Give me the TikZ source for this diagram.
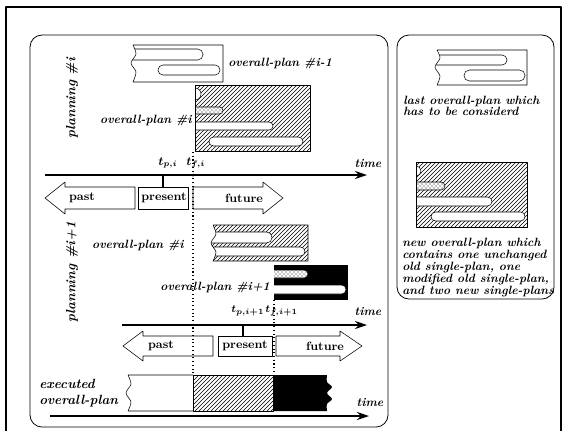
\documentclass[tikz,border=0pt]{standalone}
\usetikzlibrary{patterns,arrows.meta}
\begin{document}
\begin{tikzpicture}[x=0.75pt,y=-0.75pt,line join=round,
  lbl/.style={font=\fontsize{9}{9}\selectfont\bfseries\itshape, inner sep=0pt},
  biglbl/.style={font=\fontsize{10}{12}\selectfont\bfseries\itshape, inner sep=0pt},
  tlbl/.style={font=\fontsize{9}{9}\selectfont\boldmath, inner sep=0pt, anchor=west},
  pplbl/.style={font=\fontsize{9}{9}\selectfont\bfseries, inner sep=0pt},
  axisln/.style={line width=1.5pt,-{Stealth[length=9pt,width=6pt]}},
  hatch/.style={pattern=north east lines},
  dotbar/.style={fill=white,postaction={pattern=crosshatch dots}},
  wbar/.style={fill=white},
  tline/.style={dotted,line width=0.8pt}]
\useasboundingbox (0,0) rectangle (566,430);

% frames
\draw[line width=1.2pt] (6,7) rectangle (561,436);
\draw[rounded corners=9pt,line width=0.6pt] (30,35) rectangle (388,427);
\draw[rounded corners=9pt,line width=0.6pt] (397,35) rectangle (554,299);

% planning labels
\node[biglbl,rotate=90] (plani) at (72,98) {planning \#i};
\node[biglbl,rotate=90] (planii) at (72,272) {planning \#i+1};

% ---- overall-plan #i-1 (torn box)
\begin{scope}
\clip (133,45) -- (223,45) -- (223,82) -- (133,82) -- plot[smooth] coordinates {(133,82) (136,72) (131,63) (136,54) (133,45)} -- cycle;
\draw[rounded corners=4pt] (115,49) rectangle (203,60);
\draw[rounded corners=3.7pt] (158,65) rectangle (220,75);
\end{scope}
\draw (133,45) -- (223,45) -- (223,82) -- (133,82) -- plot[smooth] coordinates {(133,82) (136,72) (131,63) (136,54) (133,45)};
\node[lbl,anchor=west] (pim1) at (228,63) {overall-plan \#i-1};

% ---- overall-plan #i (hatched)
\fill[hatch] (195,85) rectangle (310,151);
\begin{scope}
\clip (195,85) rectangle (310,151);
\filldraw[fill=white] (195,94) circle [radius=6];
\filldraw[dotbar,rounded corners=2.6pt] (180,107) rectangle (223,114);
\filldraw[wbar,rounded corners=3pt] (180,122) rectangle (273,130);
\filldraw[wbar,rounded corners=3.3pt] (209,137) rectangle (303,146);
\end{scope}
\draw (195,85) rectangle (310,151);
\node[lbl,anchor=east] (pi) at (192,120) {overall-plan \#i};

% ---- time axis 1
\coordinate (a1s) at (45,175);
\coordinate (a1e) at (367,175);
\draw[axisln] (a1s) -- (a1e);
\node[lbl] (time1) at (368,163) {time};
\node[tlbl] (tpi) at (158,163) {$t_{p,i}$};
\node[tlbl] (tfi) at (186,163) {$t_{f,i}$};
\coordinate (tpia) at (163,175);
\coordinate (tpib) at (163,187);
\draw[line width=1.2pt] (tpia) -- (tpib);

% ---- past/present/future row 1
\draw (135,187) -- (65,187) -- (65,182) -- (45,198) -- (65,214) -- (65,209) -- (135,209) -- cycle;
\draw (138,187) rectangle (188,209);
\draw (193,187) -- (263,187) -- (263,182) -- (283,198) -- (263,214) -- (263,209) -- (193,209) -- cycle;
\node[pplbl] (past1) at (82,198) {past};
\node[pplbl] (pres1) at (164,198) {present};
\node[pplbl] (fut1) at (244,198) {future};

% ---- overall-plan #i (second, torn)
\fill[hatch] (213,225) -- (308,225) -- (308,261) -- (213,261) -- plot[smooth] coordinates {(213,261) (216,252) (211,243) (216,234) (213,225)} -- cycle;
\begin{scope}
\clip (213,225) -- (308,225) -- (308,261) -- (213,261) -- plot[smooth] coordinates {(213,261) (216,252) (211,243) (216,234) (213,225)} -- cycle;
\filldraw[wbar,rounded corners=4pt] (195,232) rectangle (272,243);
\filldraw[wbar,rounded corners=3.3pt] (195,247) rectangle (305,256);
\end{scope}
\draw (213,225) -- (308,225) -- (308,261) -- (213,261) -- plot[smooth] coordinates {(213,261) (216,252) (211,243) (216,234) (213,225)};
\node[lbl,anchor=east] (pi2) at (184,245) {overall-plan \#i};

% ---- overall-plan #i+1 (black)
\fill (274,265) rectangle (348,300);
\begin{scope}
\clip (274,265) rectangle (348,300);
\filldraw[dotbar,rounded corners=3pt] (260,270) rectangle (308,278);
\filldraw[wbar,rounded corners=3.3pt] (260,285) rectangle (346,294);
\end{scope}
\node[lbl,anchor=east] (pip1) at (270,287) {overall-plan \#i+1};

% ---- time axis 2
\coordinate (a2s) at (122,325);
\coordinate (a2e) at (367,325);
\draw[axisln] (a2s) -- (a2e);
\node[lbl] (time2) at (368,311) {time};
\node[tlbl,font=\fontsize{8}{9}\selectfont\boldmath] (tpii) at (231,311) {$t_{p,i+1}$};
\node[tlbl,font=\fontsize{8}{9}\selectfont\boldmath] (tfii) at (265,311) {$t_{f,i+1}$};
\coordinate (tpiia) at (243,325);
\coordinate (tpiib) at (243,336);
\draw[line width=1.2pt] (tpiia) -- (tpiib);

% ---- past/present/future row 2
\draw (213,336) -- (143,336) -- (143,331) -- (123,346) -- (143,361) -- (143,356) -- (213,356) -- cycle;
\draw (218,336) rectangle (272,356);
\draw (276,336) -- (340,336) -- (340,331) -- (362,346) -- (340,361) -- (340,356) -- (276,356) -- cycle;
\node[pplbl] (past2) at (161,346) {past};
\node[pplbl] (pres2) at (245,346) {present};
\node[pplbl] (fut2) at (325,346) {future};

% ---- executed overall-plan
\draw (193,375) -- (128,375) -- plot[smooth] coordinates {(128,375) (131,384) (126,393) (131,402) (128,411)} -- (193,411);
\filldraw[hatch,draw=black] (193,375) rectangle (273,411);
\fill (273,375) -- (327,375) -- plot[smooth] coordinates {(327,375) (327,382) (332,387) (327,393) (332,399) (327,404) (327,411)} -- (273,411) -- cycle;
\node[biglbl,anchor=north west,align=left] (exec) at (39,379) {executed\\overall-plan};

% ---- time axis 3
\coordinate (a3s) at (50,416);
\coordinate (a3e) at (369,416);
\draw[axisln] (a3s) -- (a3e);
\node[lbl] (time3) at (370,402) {time};

% ---- dotted time lines
\coordinate (d1t) at (193,152);
\coordinate (d1b) at (193,375);
\coordinate (d2t) at (274,300);
\coordinate (d2b) at (274,375);
\draw[tline] (d1t) -- (d1b);
\draw[tline] (d2t) -- (d2b);
\fill (193,175) circle [radius=1.5];
\fill (274,325) circle [radius=1.5];

% ---- legend: last overall-plan
\begin{scope}
\clip (437,50) -- (527,50) -- (527,85) -- (437,85) -- plot[smooth] coordinates {(437,85) (440,76) (435,67) (440,58) (437,50)} -- cycle;
\draw[rounded corners=3.7pt] (420,55) rectangle (507,65);
\draw[rounded corners=4pt] (464,70) rectangle (525,81);
\end{scope}
\draw (437,50) -- (527,50) -- (527,85) -- (437,85) -- plot[smooth] coordinates {(437,85) (440,76) (435,67) (440,58) (437,50)};
\node[lbl,anchor=north west,align=left,font=\fontsize{9}{8.5}\selectfont\bfseries\itshape] (lgA) at (403,96) {last overall-plan which\\has to be considerd};

% ---- legend: new overall-plan
\fill[hatch] (416,162) rectangle (527,227);
\begin{scope}
\clip (416,162) rectangle (527,227);
\filldraw[fill=white] (416,171) circle [radius=5];
\filldraw[dotbar,rounded corners=3pt] (400,182) rectangle (445,190);
\filldraw[wbar,rounded corners=3.3pt] (400,197) rectangle (492,206);
\filldraw[wbar,rounded corners=3.3pt] (431,212) rectangle (525,221);
\end{scope}
\draw (416,162) rectangle (527,227);
\node[lbl,anchor=north west,align=left] (lgB) at (402,238) {new overall-plan which\\contains one unchanged\\old single-plan, one\\modified old single-plan,\\and two new single-plans};

\end{tikzpicture}
\end{document}
